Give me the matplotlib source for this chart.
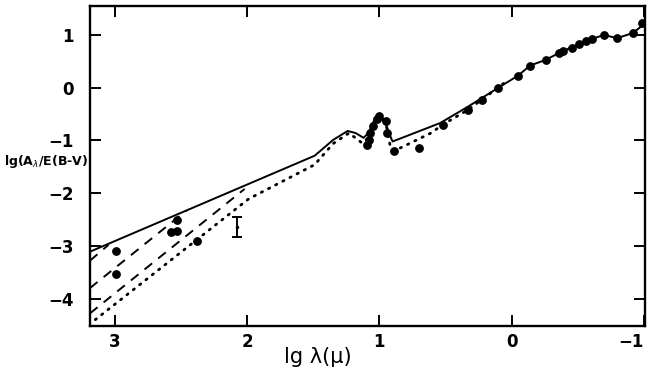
import matplotlib.pyplot as plt
import numpy as np

# model curves
solid_x = [3.19, 1.49, 1.35, 1.24, 1.18, 1.12, 1.08, 1.04, 1.00, 0.96, 0.93, 0.90,
           0.54, 0.33, 0.10, -0.05, -0.14, -0.26, -0.36, -0.50, -0.60, -0.70, -0.80, -0.92, -1.0]
solid_y = [-3.11, -1.29, -0.99, -0.82, -0.86, -0.95, -0.85, -0.62, -0.53, -0.62, -0.85, -1.02,
           -0.67, -0.36, 0.00, 0.23, 0.42, 0.53, 0.66, 0.82, 0.92, 1.00, 0.94, 1.04, 1.20]

dot_x = [3.15, 1.99, 1.49, 1.35, 1.23, 1.13, 1.08, 1.04, 1.00, 0.95, 0.92, 0.89,
         0.79, 0.61, 0.52, 0.33, 0.14, 0.05]
dot_y = [-4.40, -2.11, -1.46, -1.06, -0.86, -1.05, -0.95, -0.70, -0.55, -0.68, -1.08, -1.20,
         -1.08, -0.86, -0.70, -0.42, -0.07, 0.10]

dashA_x = [3.19, 3.05]
dashA_y = [-3.28, -2.98]
dashB_x = [3.19, 2.46]
dashB_y = [-3.80, -2.33]
dashC_x = [3.19, 2.02]
dashC_y = [-4.28, -1.92]

# observations
obs_x = [2.99, 2.99, 2.58, 2.53, 2.53, 2.38,
         1.09, 1.08, 1.07, 1.05, 1.02, 1.00, 0.95, 0.94, 0.89, 0.70, 0.52,
         0.33, 0.22, 0.10, -0.05, -0.14, -0.26, -0.36, -0.39, -0.46, -0.51,
         -0.56, -0.61, -0.70, -0.80, -0.92, -0.99]
obs_y = [-3.09, -3.53, -2.73, -2.71, -2.50, -2.90,
         -1.08, -0.99, -0.86, -0.73, -0.59, -0.53, -0.64, -0.85, -1.20, -1.14, -0.70,
         -0.42, -0.23, 0.00, 0.23, 0.42, 0.53, 0.66, 0.69, 0.75, 0.82,
         0.88, 0.92, 1.00, 0.94, 1.04, 1.23]

err_x = 2.08
err_y = -2.64
err_size = 0.19

fig = plt.figure(figsize=(6.5, 3.77), dpi=100)
ax = fig.add_axes([90/650, 1-326/377, 555/650, 320/377])

ax.plot(solid_x, solid_y, color='black', lw=1.4)
ax.plot(dot_x, dot_y, color='black', lw=2.0, linestyle=(0, (0.5, 2.4)), dash_capstyle='round')
for xs, ys in [(dashA_x, dashA_y), (dashB_x, dashB_y), (dashC_x, dashC_y)]:
    ax.plot(xs, ys, color='black', lw=1.4, linestyle=(0, (5, 4)))
ax.plot(obs_x, obs_y, 'o', color='black', markersize=5.3)
ax.errorbar([err_x], [err_y], yerr=[err_size], fmt='.', color='black',
            markersize=3, capsize=3.5, elinewidth=1.4, capthick=1.4)

ax.set_xlim(3.19, -1.01)
ax.set_ylim(-4.52, 1.55)
ax.set_xticks([3, 2, 1, 0, -1])
ax.set_xticklabels(['3', '2', '1', '0', '\u22121'])
ax.set_yticks([1, 0, -1, -2, -3, -4])
ax.set_yticklabels(['1', '0', '\u22121', '\u22122', '\u22123', '\u22124'])
ax.tick_params(direction='in', length=8, width=1.4, top=True, right=True,
               labelsize=12, pad=5)
ax.tick_params(axis='y', pad=12)
ax.get_xticklabels()[-1].set_horizontalalignment('right')
for lab in ax.get_xticklabels() + ax.get_yticklabels():
    lab.set_fontweight('bold')
for s in ax.spines.values():
    s.set_linewidth(1.7)

fig.text(4/650, 1-162/377, 'lg(A$_\\lambda$/E(B-V)', fontsize=9, fontweight='bold',
         va='center', ha='left')
fig.text(318/650, 1-357/377, 'lg \u03bb(\u03bc)', fontsize=15, va='center', ha='center')

fig.savefig('out.png', dpi=100)
